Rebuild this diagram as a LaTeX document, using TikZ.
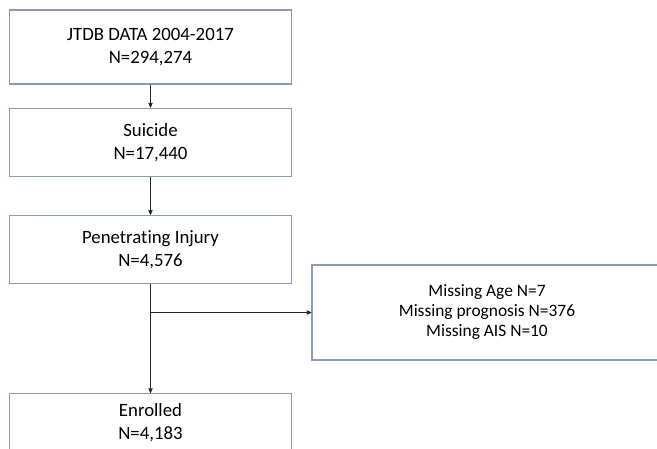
\documentclass[tikz,border=0pt]{standalone}
\usepackage{fontspec}
\setmainfont{Carlito}[Ligatures=NoCommon]
\usepackage{tikz}
\usetikzlibrary{arrows,positioning}
\definecolor{boxline}{RGB}{138,154,181}

\begin{document}
\begin{tikzpicture}[x=1pt,y=1pt,node distance=23pt,>=stealth',auto]
    % flow boxes
    \tikzstyle{flowbox}=[rectangle,draw=boxline,line width=1.2pt,fill=white,
    minimum width=282pt,minimum height=68pt,align=center,font=\fontsize{18.8}{23}\selectfont]
    \tikzstyle{flowline}=[->,line width=0.8pt,black!85]

    \clip (0,0) rectangle (657,-448);
    \fill[white] (0,0) rectangle (657,-448);

    \node [flowbox,minimum height=74pt] (jtdb) at (150.5,-47) {JTDB DATA 2004-2017\\N=294,274};
    \node [flowbox] (suicide) [below=23pt of jtdb] {Suicide\\N=17,440};
    \node [flowbox] (penetrating) [below=38pt of suicide] {Penetrating Injury\\N=4,576};
    \node [flowbox,minimum height=58pt] (enrolled) [below=109pt of penetrating] {Enrolled\\N=4,183};
    \node [flowbox,minimum width=350pt,minimum height=95pt,font=\fontsize{17.4}{20}\selectfont]
      (missing) at (487,-312.5) {Missing Age N=7\\Missing prognosis N=376\\Missing AIS N=10};

    \coordinate (branch) at (penetrating.south |- missing.west);

    \draw [flowline] (jtdb) -- (suicide);
    \draw [flowline] (suicide) -- (penetrating);
    \draw [flowline] (penetrating) -- (enrolled);
    \draw [flowline] (branch) -- (missing);
  \end{tikzpicture}
\end{document}
